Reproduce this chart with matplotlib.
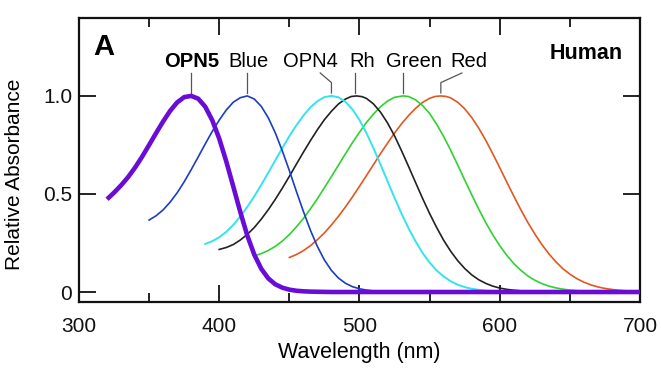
import matplotlib
matplotlib.use('Agg')
import matplotlib.pyplot as plt

plt.rcParams['font.family'] = ['Liberation Sans', 'DejaVu Sans']

# ---- data (wavelength nm, relative absorbance) ----
opn5_nm = [320, 325, 330, 335, 340, 345, 350, 355, 360, 365, 370, 375, 380, 385, 390,
           395, 400, 405, 410, 415, 420, 425, 430, 435, 440, 445, 450, 455, 460, 465,
           470, 480, 500, 550, 600, 650, 700]
opn5_abs = [0.473, 0.507, 0.544, 0.586, 0.635, 0.690, 0.750, 0.811, 0.870, 0.924, 0.967,
            0.994, 1.0, 0.986, 0.945, 0.876, 0.782, 0.666, 0.538, 0.408, 0.288, 0.190,
            0.118, 0.069, 0.039, 0.022, 0.012, 0.0064, 0.0035, 0.002, 0.0011, 0.0, 0.0,
            0.0, 0.0, 0.0, 0.0]

blue_nm = [350, 355, 360, 365, 370, 375, 380, 385, 390, 395, 400, 405, 410, 415, 420,
           425, 430, 435, 440, 445, 450, 455, 460, 465, 470, 475, 480, 485, 490, 495,
           500, 505, 510, 515, 520, 530]
blue_abs = [0.367, 0.389, 0.419, 0.4585, 0.506, 0.562, 0.624, 0.689, 0.755, 0.819, 0.877,
            0.928, 0.968, 0.991, 1.0, 0.984, 0.9465, 0.888, 0.811, 0.719, 0.619, 0.513,
            0.411, 0.315, 0.232, 0.163, 0.110, 0.071, 0.0445, 0.027, 0.0165, 0.0097,
            0.0057, 0.0035, 0.002, 0.0005]

opn4_nm = [390, 395, 400, 405, 410, 415, 420, 425, 430, 435, 440, 445, 450, 455, 460,
           465, 470, 475, 480, 485, 490, 495, 500, 505, 510, 515, 520, 525, 530, 535,
           540, 545, 550, 555, 560, 565, 570, 575, 580, 585, 590, 595, 600, 610]
opn4_abs = [0.245, 0.259, 0.279, 0.307, 0.342, 0.385, 0.434, 0.488, 0.547, 0.609, 0.672,
            0.734, 0.795, 0.850, 0.900, 0.942, 0.973, 0.994, 1.0, 0.993, 0.970, 0.931,
            0.877, 0.810, 0.733, 0.650, 0.565, 0.480, 0.399, 0.3245, 0.258, 0.199, 0.150,
            0.110, 0.079, 0.055, 0.037, 0.025, 0.0165, 0.011, 0.007, 0.0045, 0.003, 0.001]

rh_nm = [400, 405, 410, 415, 420, 425, 430, 435, 440, 445, 450, 455, 460, 465, 470,
         475, 480, 485, 490, 494, 498, 502, 505, 510, 515, 520, 525, 530, 535, 540,
         545, 550, 555, 560, 565, 570, 575, 580, 585, 590, 595, 600, 605, 610, 615,
         620, 630]
rh_abs = [0.217, 0.227, 0.242, 0.265, 0.294, 0.329, 0.372, 0.420, 0.473, 0.530, 0.590,
          0.652, 0.713, 0.772, 0.828, 0.879, 0.922, 0.959, 0.984, 0.997, 1.0, 0.996,
          0.987, 0.959, 0.917, 0.862, 0.796, 0.720, 0.640, 0.558, 0.477, 0.400, 0.329,
          0.264, 0.208, 0.160, 0.120, 0.0875, 0.0625, 0.044, 0.030, 0.020, 0.0135,
          0.009, 0.006, 0.004, 0.0016]

green_nm = [427, 430, 435, 440, 445, 450, 455, 460, 465, 470, 475, 480, 485, 490, 495,
            500, 505, 510, 515, 520, 525, 531, 535, 540, 545, 550, 555, 560, 565, 570,
            575, 580, 585, 590, 595, 600, 605, 610, 615, 620, 625, 630, 635, 640, 645,
            650, 655, 660, 665, 670, 680]
green_abs = [0.189, 0.196, 0.212, 0.233, 0.260, 0.293, 0.332, 0.375, 0.424, 0.476, 0.532,
             0.589, 0.647, 0.705, 0.762, 0.815, 0.865, 0.908, 0.945, 0.974, 0.993, 1.0,
             0.997, 0.980, 0.951, 0.910, 0.856, 0.793, 0.723, 0.648, 0.5715, 0.496, 0.423,
             0.354, 0.292, 0.236, 0.187, 0.145, 0.111, 0.082, 0.060, 0.043, 0.030, 0.021,
             0.0145, 0.010, 0.0067, 0.0045, 0.003, 0.002, 0.001]

red_nm = [450, 455, 460, 465, 470, 475, 480, 485, 490, 495, 500, 505, 510, 515, 520,
          525, 530, 535, 540, 545, 550, 554, 558, 562, 565, 570, 575, 580, 585, 590,
          595, 600, 605, 610, 615, 620, 625, 630, 635, 640, 645, 650, 655, 660, 665,
          670, 675, 680, 685, 690, 695, 700]
red_abs = [0.176, 0.191, 0.211, 0.236, 0.267, 0.3015, 0.342, 0.386, 0.434, 0.485, 0.539,
           0.594, 0.650, 0.706, 0.759, 0.811, 0.858, 0.900, 0.937, 0.967, 0.988, 0.9975,
           1.0, 0.997, 0.990, 0.968, 0.9345, 0.890, 0.836, 0.774, 0.7055, 0.634, 0.561,
           0.489, 0.420, 0.355, 0.296, 0.242, 0.195, 0.154, 0.119, 0.091, 0.068, 0.050,
           0.036, 0.026, 0.018, 0.013, 0.0088, 0.006, 0.0042, 0.003]

labels = ['OPN5', 'Blue', 'OPN4', 'Rh', 'Green', 'Red']
label_x = [380, 421, 465, 502, 539, 578]       # label centre positions (nm)
peak_nm = [380, 420, 480, 497, 531, 558]       # peak wavelengths (leader lines)
leader_top_x = [380, 420, 472, 497, 531, 573]  # where the leader leaves the label

x_ticks = [300, 400, 500, 600, 700]
x_minor = [350, 450, 550, 650]
y_ticks = [0, 0.5, 1.0]
y_ticklabels = ['0', '0.5', '1.0']

# ---- figure ----
W, H = 661, 384
fig = plt.figure(figsize=(W / 100, H / 100), dpi=100)
ax = fig.add_axes([79 / W, 1 - 302 / H, (640 - 79) / W, (302 - 17.5) / H])

ax.plot(red_nm, red_abs, color='#e2571f', lw=1.2)
ax.plot(green_nm, green_abs, color='#2fd22f', lw=1.2)
ax.plot(rh_nm, rh_abs, color='#222222', lw=1.2)
ax.plot(opn4_nm, opn4_abs, color='#35e3ef', lw=1.4)
ax.plot(blue_nm, blue_abs, color='#1c3cc4', lw=1.2)
ax.plot(opn5_nm, opn5_abs, color='#6a0cd8', lw=3.3, solid_capstyle='butt', zorder=5)

ax.set_xlim(300, 700)
ax.set_ylim(-0.051, 1.40)
ax.set_xticks(x_ticks)
ax.set_xticks(x_minor, minor=True)
ax.set_yticks(y_ticks)
ax.set_yticklabels(y_ticklabels)
ax.tick_params(which='both', direction='in', top=True, right=True, width=1.3,
               labelsize=15, colors='#111111')
ax.tick_params(which='major', length=12.5)
ax.tick_params(which='minor', length=6.5)
ax.tick_params(axis='x', pad=11)
ax.tick_params(axis='y', pad=5)
for s in ax.spines.values():
    s.set_linewidth(1.6)
    s.set_color('#111111')

ax.set_xlabel('Wavelength (nm)', fontsize=15.5, labelpad=4)
fig.text(15 / W, 1 - 174 / H, 'Relative Absorbance', rotation=90, fontsize=15,
         ha='center', va='center')

# labels and leader lines
for i, name in enumerate(labels):
    ax.text(label_x[i], 1.148, name, fontsize=14.5, ha='center', va='baseline',
            fontweight='bold' if name == 'OPN5' else 'normal')
    ax.plot([leader_top_x[i], peak_nm[i], peak_nm[i]], [1.117, 1.068, 1.015],
            color='#555555', lw=0.9)

ax.text(310.5, 1.209, 'A', fontsize=21, fontweight='bold', ha='left', va='baseline')
ax.text(688, 1.189, 'Human', fontsize=15.5, fontweight='bold', ha='right', va='baseline')

fig.savefig('out.png', dpi=100)
